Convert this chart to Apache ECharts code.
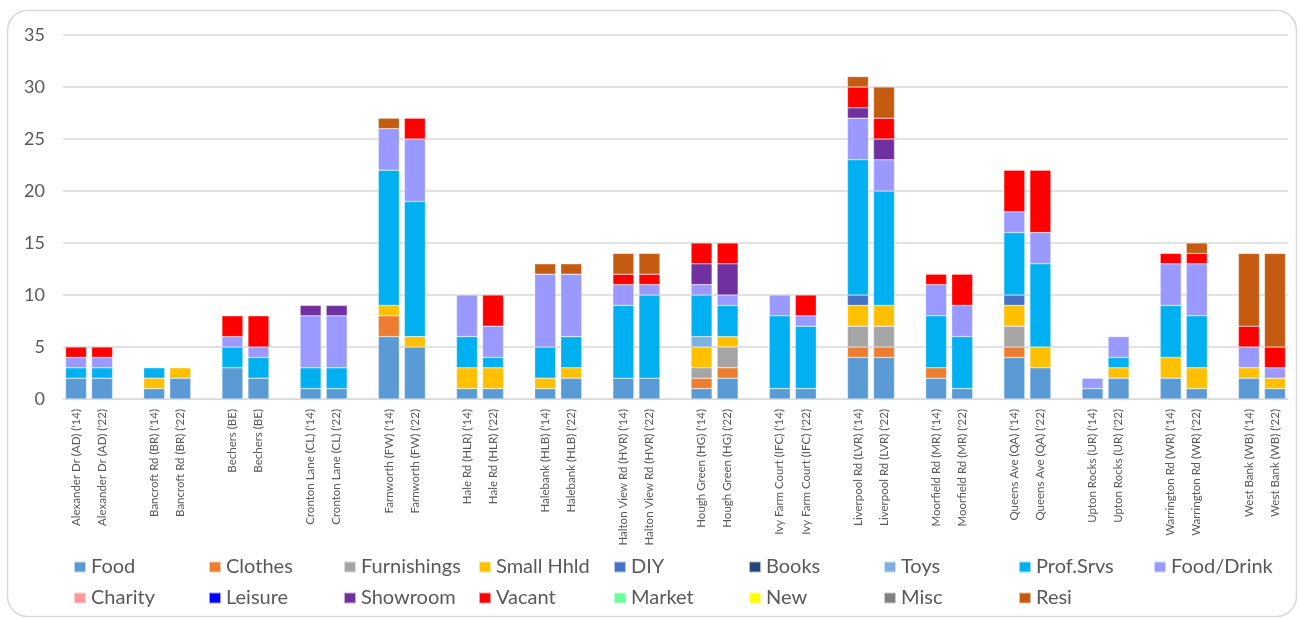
<!DOCTYPE html>
<html>
<head>
<meta charset="utf-8">
<script src="https://cdn.jsdelivr.net/npm/echarts@6/dist/echarts.min.js"></script>
<style>
html,body{margin:0;padding:0;background:#fff;}
#chart{width:1300px;height:619px;}
</style>
</head>
<body>
<div id="chart"></div>
<script>
// Bar labels (in order; a blank gap category is inserted between each pair of groups)
const labels = [
  "Alexander Dr (AD) ('14)", "Alexander Dr (AD) ('22)",
  "Bancroft Rd (BR) ('14)", "Bancroft Rd (BR) ('22)",
  "Bechers (BE)", "Bechers (BE)",
  "Cronton Lane (CL) ('14)", "Cronton Lane (CL) ('22)",
  "Farnworth (FW) ('14)", "Farnworth (FW) ('22)",
  "Hale Rd (HLR) ('14)", "Hale Rd (HLR) ('22)",
  "Halebank (HLB) ('14)", "Halebank (HLB) ('22)",
  "Halton View Rd (HVR) ('14)", "Halton View Rd (HVR) ('22)",
  "Hough Green (HG) ('14)", "Hough Green (HG) ('22)",
  "Ivy Farm Court (IFC) ('14)", "Ivy Farm Court (IFC) ('22)",
  "Liverpool Rd (LVR) ('14)", "Liverpool Rd (LVR) ('22)",
  "Moorfield Rd (MR) ('14)", "Moorfield Rd (MR) ('22)",
  "Queens Ave (QA) ('14)", "Queens Ave (QA) ('22)",
  "Upton Rocks (UR) ('14)", "Upton Rocks (UR) ('22)",
  "Warrington Rd (WR) ('14)", "Warrington Rd (WR) ('22)",
  "West Bank (WB) ('14)", "West Bank (WB) ('22)"
];
//               AD    BR    BE    CL    FW     HLR   HLB   HVR   HG    IFC   LVR    MR    QA    UR    WR    WB
const food      = [2,2, 1,2, 3,2, 1,1, 6,5,   1,1,  1,2,  2,2,  1,2,  1,1,  4,4,   2,1,  4,3,  1,2,  2,1,  2,1];
const clothes   = [0,0, 0,0, 0,0, 0,0, 2,0,   0,0,  0,0,  0,0,  1,1,  0,0,  1,1,   1,0,  1,0,  0,0,  0,0,  0,0];
const furnish   = [0,0, 0,0, 0,0, 0,0, 0,0,   0,0,  0,0,  0,0,  1,2,  0,0,  2,2,   0,0,  2,0,  0,0,  0,0,  0,0];
const smallHhld = [0,0, 1,1, 0,0, 0,0, 1,1,   2,2,  1,1,  0,0,  2,1,  0,0,  2,2,   0,0,  2,2,  0,1,  2,2,  1,1];
const diy       = [0,0, 0,0, 0,0, 0,0, 0,0,   0,0,  0,0,  0,0,  0,0,  0,0,  1,0,   0,0,  1,0,  0,0,  0,0,  0,0];
const books     = [0,0, 0,0, 0,0, 0,0, 0,0,   0,0,  0,0,  0,0,  0,0,  0,0,  0,0,   0,0,  0,0,  0,0,  0,0,  0,0];
const toys      = [0,0, 0,0, 0,0, 0,0, 0,0,   0,0,  0,0,  0,0,  1,0,  0,0,  0,0,   0,0,  0,0,  0,0,  0,0,  0,0];
const profSrvs  = [1,1, 1,0, 2,2, 2,2, 13,13, 3,1,  3,3,  7,8,  4,3,  7,6,  13,11, 5,5,  6,8,  0,1,  5,5,  0,0];
const foodDrink = [1,1, 0,0, 1,1, 5,5, 4,6,   4,3,  7,6,  2,1,  1,1,  2,1,  4,3,   3,3,  2,3,  1,2,  4,5,  2,1];
const charity   = [0,0, 0,0, 0,0, 0,0, 0,0,   0,0,  0,0,  0,0,  0,0,  0,0,  0,0,   0,0,  0,0,  0,0,  0,0,  0,0];
const leisure   = [0,0, 0,0, 0,0, 0,0, 0,0,   0,0,  0,0,  0,0,  0,0,  0,0,  0,0,   0,0,  0,0,  0,0,  0,0,  0,0];
const showroom  = [0,0, 0,0, 0,0, 1,1, 0,0,   0,0,  0,0,  0,0,  2,3,  0,0,  1,2,   0,0,  0,0,  0,0,  0,0,  0,0];
const vacant    = [1,1, 0,0, 2,3, 0,0, 0,2,   0,3,  0,0,  1,1,  2,2,  0,2,  2,2,   1,3,  4,6,  0,0,  1,1,  2,2];
const market    = [0,0, 0,0, 0,0, 0,0, 0,0,   0,0,  0,0,  0,0,  0,0,  0,0,  0,0,   0,0,  0,0,  0,0,  0,0,  0,0];
const newUse    = [0,0, 0,0, 0,0, 0,0, 0,0,   0,0,  0,0,  0,0,  0,0,  0,0,  0,0,   0,0,  0,0,  0,0,  0,0,  0,0];
const misc      = [0,0, 0,0, 0,0, 0,0, 0,0,   0,0,  0,0,  0,0,  0,0,  0,0,  0,0,   0,0,  0,0,  0,0,  0,0,  0,0];
const resi      = [0,0, 0,0, 0,0, 0,0, 1,0,   0,0,  1,1,  2,2,  0,0,  0,0,  1,3,   0,0,  0,0,  0,0,  0,1,  7,9];
const yTicks = [0, 5, 10, 15, 20, 25, 30, 35];

const seriesDefs = [
  ["Food", food, "#5B9BD5"],
  ["Clothes", clothes, "#ED7D31"],
  ["Furnishings", furnish, "#A5A5A5"],
  ["Small Hhld", smallHhld, "#FFC000"],
  ["DIY", diy, "#4472C4"],
  ["Books", books, "#264478"],
  ["Toys", toys, "#7FB0E0"],
  ["Prof.Srvs", profSrvs, "#00B0F0"],
  ["Food/Drink", foodDrink, "#9999FF"],
  ["Charity", charity, "#FF9999"],
  ["Leisure", leisure, "#0000FF"],
  ["Showroom", showroom, "#7030A0"],
  ["Vacant", vacant, "#FF0000"],
  ["Market", market, "#66FF99"],
  ["New", newUse, "#FFFF00"],
  ["Misc", misc, "#808080"],
  ["Resi", resi, "#C55A11"]
];

// insert a blank category between every pair of bars
function withGaps(arr, blank) {
  const out = [];
  for (let i = 0; i < arr.length; i += 2) {
    if (i > 0) out.push(blank);
    out.push(arr[i], arr[i + 1]);
  }
  return out;
}
const cats = withGaps(labels, "");
const FONT = "Lato, 'Noto Sans', sans-serif";

const chart = echarts.init(document.getElementById('chart'), null, {renderer: 'canvas'});
const series = seriesDefs.map(([name, vals, color]) => ({
  name: name,
  type: 'bar',
  stack: 'total',
  barWidth: 21,
  itemStyle: {color: color, borderColor: 'rgba(255,255,255,0.6)', borderWidth: 0.5},
  emphasis: {disabled: true},
  data: withGaps(vals.map(v => (v === 0 ? null : v)), null)
}));

const names = seriesDefs.map(d => d[0]);
const legendCommon = {
  orient: 'horizontal',
  itemWidth: 12,
  itemHeight: 11,
  itemGap: 0,
  icon: 'rect',
  selectedMode: false,
  textStyle: {fontFamily: FONT, fontSize: 20, color: '#595959', width: 117, lineHeight: 20, overflow: 'none'},
  padding: 0
};

chart.setOption({
  backgroundColor: '#fff',
  animation: false,
  graphic: [{
    type: 'rect',
    shape: {x: 7.5, y: 10.5, width: 1289, height: 606, r: 20},
    style: {fill: 'none', stroke: '#D9D9D9', lineWidth: 1.5},
    silent: true, z: -1
  }],
  legend: [
    Object.assign({}, legendCommon, {left: 73, top: 557, width: 1240, data: names.slice(0, 9)}),
    Object.assign({}, legendCommon, {left: 73, top: 588, width: 1240, data: names.slice(9)})
  ],
  grid: {left: 63, right: 12, top: 35, bottom: 220, containLabel: false},
  xAxis: {
    type: 'category',
    data: cats,
    axisLine: {show: true, lineStyle: {color: '#D9D9D9', width: 1}},
    axisTick: {show: false},
    axisLabel: {rotate: 90, interval: 0, fontFamily: FONT, fontSize: 11.5, color: '#595959', margin: 10}
  },
  yAxis: {
    type: 'value',
    min: yTicks[0],
    max: yTicks[yTicks.length - 1],
    interval: 5,
    axisLine: {show: false},
    axisTick: {show: false},
    splitLine: {lineStyle: {color: '#D9D9D9', width: 1.5}},
    axisLabel: {fontFamily: FONT, fontSize: 18, color: '#595959', margin: 18}
  },
  series: series
});
</script>
</body>
</html>
